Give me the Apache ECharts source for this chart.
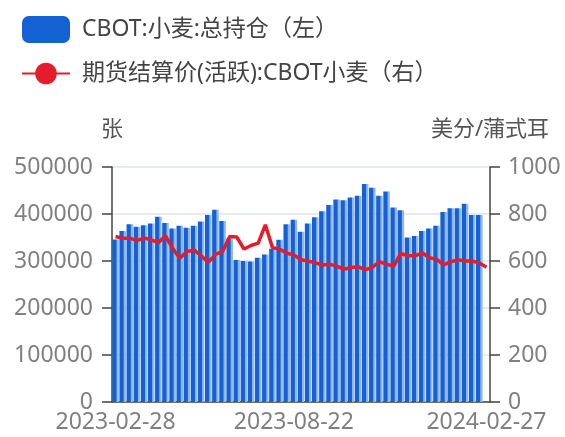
<!DOCTYPE html>
<html>
<head>
<meta charset="utf-8">
<script src="https://cdn.jsdelivr.net/npm/echarts@6/dist/echarts.min.js"></script>
<style>
  html, body { margin: 0; padding: 0; background: #fff; }
  #chart { width: 565px; height: 437px; }
</style>
</head>
<body>
<div id="chart"></div>
<script>
// weekly dates (Tue)
const dates = [
  '2023-02-28', '2023-03-07', '2023-03-14', '2023-03-21', '2023-03-28',
  '2023-04-04', '2023-04-11', '2023-04-18', '2023-04-25',
  '2023-05-02', '2023-05-09', '2023-05-16', '2023-05-23', '2023-05-30',
  '2023-06-06', '2023-06-13', '2023-06-20', '2023-06-27',
  '2023-07-04', '2023-07-11', '2023-07-18', '2023-07-25',
  '2023-08-01', '2023-08-08', '2023-08-15', '2023-08-22', '2023-08-29',
  '2023-09-05', '2023-09-12', '2023-09-19', '2023-09-26',
  '2023-10-03', '2023-10-10', '2023-10-17', '2023-10-24', '2023-10-31',
  '2023-11-07', '2023-11-14', '2023-11-21', '2023-11-28',
  '2023-12-05', '2023-12-12', '2023-12-19', '2023-12-26',
  '2024-01-02', '2024-01-09', '2024-01-16', '2024-01-23', '2024-01-30',
  '2024-02-06', '2024-02-13', '2024-02-20', '2024-02-27'
]

// CBOT:小麦:总持仓 (张) — 最后一周暂无数据
const openInterest = [
  346000, 364000, 378000, 373000, 376000, 380000, 394000, 381000, 369000,
  375000, 371000, 375000, 384000, 398000, 409000, 385000, 348000, 302000,
  300000, 299000, 307000, 314000, 326000, 345000, 378000, 388000, 362000,
  380000, 393000, 406000, 419000, 431000, 429000, 435000, 439000, 464000,
  456000, 439000, 448000, 414000, 408000, 350000, 353000, 364000, 369000,
  375000, 404000, 412000, 412000, 422000, 398000, 398000, null
]

// 期货结算价(活跃):CBOT小麦 (美分/蒲式耳)
const settlePrice = [
  704, 697, 697, 687, 698, 690, 678, 707, 654,
  612, 640, 647, 622, 594, 628, 640, 704, 702,
  651, 666, 676, 754, 657, 651, 633, 626, 605,
  600, 592, 583, 586, 578, 565, 572, 576, 562,
  573, 597, 586, 578, 632, 622, 622, 635, 614,
  608, 583, 597, 605, 600, 600, 592, 573
]

const labelIdx = [0, 25, 52]
const leftAxis = { min: 0, max: 500000, interval: 100000 }
const rightAxis = { min: 0, max: 1000, interval: 200 }

const FONT = '"Noto Sans", "Noto Sans CJK SC", sans-serif'
const AXIS_COLOR = '#444'
const LABEL_COLOR = '#808080'

const chart = echarts.init(document.getElementById('chart'))

chart.setOption({
  animation: false,
  textStyle: { fontFamily: FONT },
  legend: {
    orient: 'vertical',
    left: 16,
    top: 11,
    itemWidth: 48,
    itemHeight: 27,
    itemGap: 19,
    textStyle: { fontSize: 23, color: '#444', fontFamily: FONT, padding: [0, 0, 0, 7] },
    data: [
      { name: 'CBOT:小麦:总持仓（左）', icon: 'roundRect', itemStyle: { color: '#1461d3' } },
      { name: '期货结算价(活跃):CBOT小麦（右）' }
    ]
  },
  grid: {
    left: 112,
    right: 75,
    top: 167,
    bottom: 35
  },
  xAxis: {
    type: 'category',
    data: dates,
    boundaryGap: true,
    axisLine: { lineStyle: { color: AXIS_COLOR, width: 1.5 } },
    axisTick: { interval: 24, length: 10, lineStyle: { color: AXIS_COLOR, width: 1.5 } },
    axisLabel: {
      interval: (idx) => labelIdx.includes(idx),
      color: LABEL_COLOR,
      fontSize: 23,
      margin: 9,
      fontFamily: FONT
    }
  },
  yAxis: [
    {
      type: 'value',
      name: '张',
      nameGap: 26,
      nameTextStyle: { fontSize: 22, color: '#555', fontFamily: FONT },
      min: leftAxis.min,
      max: leftAxis.max,
      interval: leftAxis.interval,
      axisLine: { show: true, lineStyle: { color: AXIS_COLOR, width: 1.5 } },
      axisTick: { show: true, length: 10, lineStyle: { color: AXIS_COLOR, width: 1.5 } },
      axisLabel: { color: LABEL_COLOR, fontSize: 23, margin: 19, fontFamily: FONT, formatter: (v) => String(v) },
      splitLine: { lineStyle: { color: '#e1e3ef', width: 1.5 } }
    },
    {
      type: 'value',
      name: '美分/蒲式耳',
      nameGap: 26,
      nameTextStyle: { fontSize: 22, color: '#555', fontFamily: FONT },
      min: rightAxis.min,
      max: rightAxis.max,
      interval: rightAxis.interval,
      axisLine: { show: true, lineStyle: { color: AXIS_COLOR, width: 1.5 } },
      axisTick: { show: true, length: 10, lineStyle: { color: AXIS_COLOR, width: 1.5 } },
      axisLabel: { color: LABEL_COLOR, fontSize: 23, margin: 18, fontFamily: FONT, formatter: (v) => String(v) },
      splitLine: { show: false }
    }
  ],
  series: [
    {
      name: 'CBOT:小麦:总持仓（左）',
      type: 'bar',
      yAxisIndex: 0,
      data: openInterest,
      barCategoryGap: '8%',
      itemStyle: {
        color: new echarts.graphic.LinearGradient(0, 0, 1, 0, [
          { offset: 0, color: '#1461d3' },
          { offset: 0.58, color: '#1461d3' },
          { offset: 0.72, color: '#92b6ec' },
          { offset: 1, color: '#92b6ec' }
        ])
      }
    },
    {
      name: '期货结算价(活跃):CBOT小麦（右）',
      type: 'line',
      yAxisIndex: 1,
      data: settlePrice,
      symbol: 'circle',
      symbolSize: 8,
      showSymbol: false,
      color: '#e41d2d',
      lineStyle: { color: '#e41d2d', width: 3.5 }
    }
  ]
})

window.addEventListener('resize', () => chart.resize())
</script>
</body>
</html>
